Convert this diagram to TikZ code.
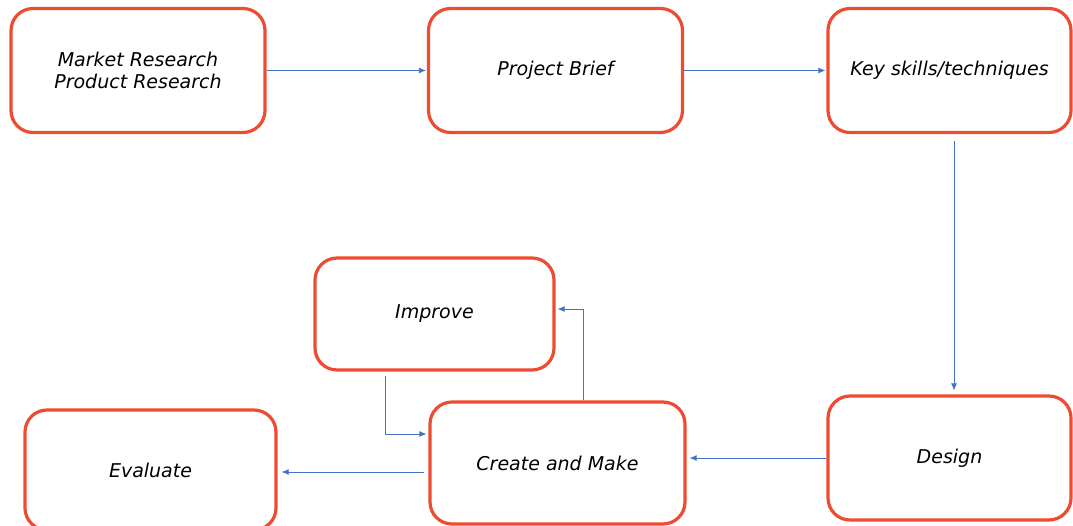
\documentclass[tikz,border=0pt]{standalone}
\usepackage{fontspec}
\setmainfont{DejaVu Sans}
\usetikzlibrary{arrows.meta}
\definecolor{boxred}{HTML}{EE4B33}
\definecolor{arrowblue}{HTML}{4472C4}
\begin{document}
\begin{tikzpicture}[x=1pt,y=-1pt,
  stage/.style={draw=boxred, line width=3.2pt, rounded corners=22pt, fill=white,
    align=center, font=\fontsize{19}{22}\selectfont\itshape, inner sep=0pt},
  flow/.style={draw=arrowblue, line width=0.8pt, -{Latex[length=7pt,width=6pt]}}]
\useasboundingbox (0,0) rectangle (1073,526);
\node[stage, minimum width=254pt, minimum height=124pt] (mr) at (138,70.5) {Market Research\\Product Research};
\node[stage, minimum width=254pt, minimum height=124pt] (pb) at (555.5,70.5) {Project Brief};
\node[stage, minimum width=243pt, minimum height=124pt] (ks) at (949.5,70.5) {Key skills/techniques};
\node[stage, minimum width=239pt, minimum height=112pt] (im) at (434.5,314) {Improve};
\node[stage, minimum width=255pt, minimum height=122pt] (cm) at (557.5,463) {Create and Make};
\node[stage, minimum width=251pt, minimum height=120pt] (ev) at (150.5,470) {Evaluate};
\node[stage, minimum width=243pt, minimum height=124pt] (de) at (949.5,458) {Design};
\draw[flow] (mr.east) -- ([xshift=-1pt]pb.west);
\draw[flow] (pb.east) -- ([xshift=-1pt]ks.west);
\draw[flow] ([xshift=4.5pt,yshift=-7pt]ks.south) -- ([xshift=4.5pt,yshift=4pt]de.north);
\draw[flow] (de.west) -- ([xshift=3pt]cm.east |- de.west);
\draw[flow] ([xshift=-4pt,yshift=-9pt]cm.west) -- ([xshift=4pt,yshift=-2pt]ev.east);
\draw[flow] ([xshift=25.5pt]cm.north) |- ([xshift=2pt,yshift=5pt]im.east);
\draw[flow] ([xshift=-49.5pt,yshift=-4pt]im.south) |- ([xshift=-2pt,yshift=29pt]cm.west);
\end{tikzpicture}
\end{document}
